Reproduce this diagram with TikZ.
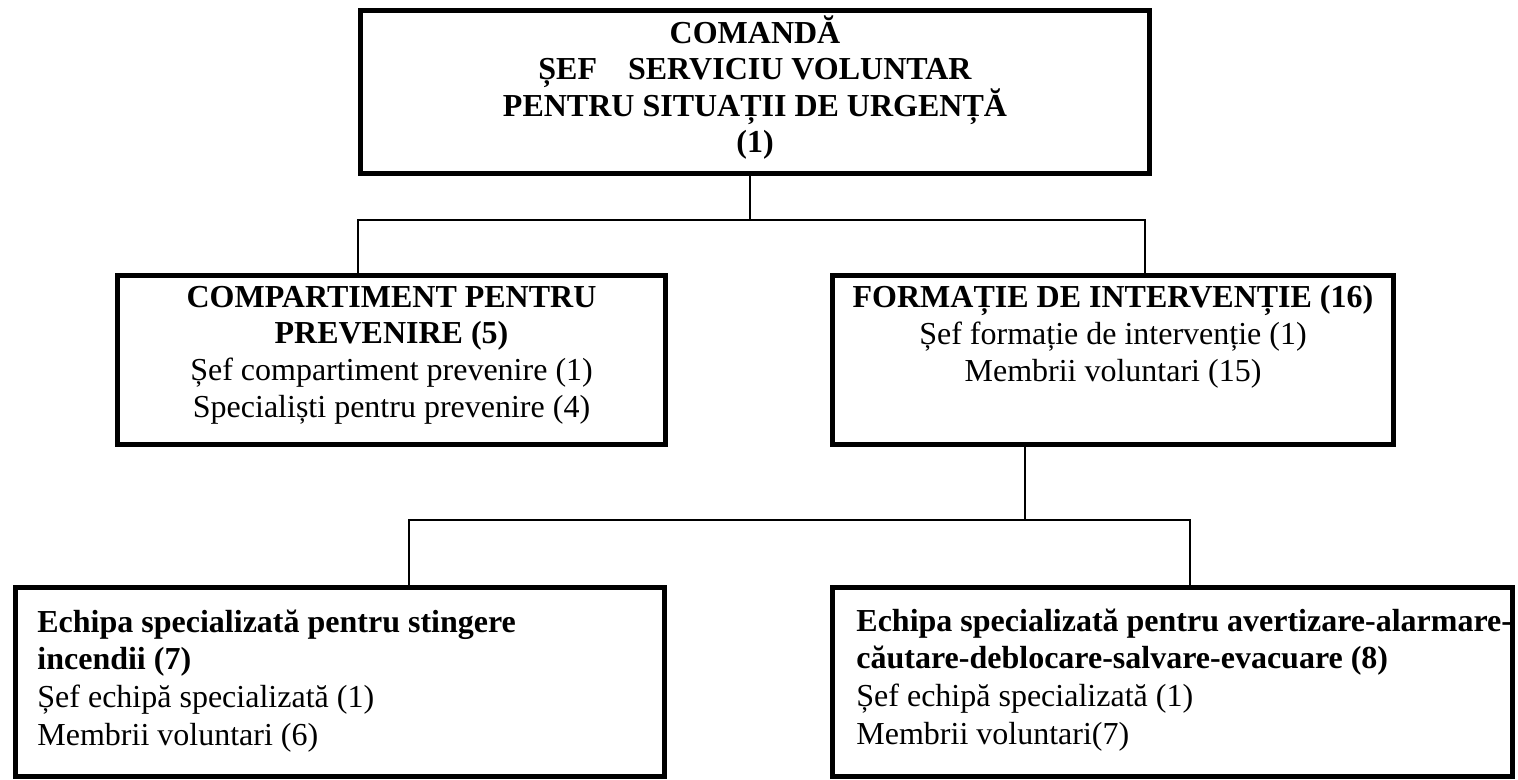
\documentclass[tikz,border=0pt]{standalone}
\usepackage{fontspec}
\setmainfont{Liberation Serif}
\begin{document}
\begin{tikzpicture}[x=0.5pt,y=-0.5pt,
  frame/.style={draw=black, line width=2.7pt, inner sep=0pt, rectangle},
  conn/.style={draw=black, line width=0.75pt},
  ctext/.style={font=\fontsize{16pt}{18.3pt}\selectfont, inner sep=0pt, align=center, anchor=base},
  ltext/.style={font=\fontsize{16pt}{18.8pt}\selectfont, inner sep=0pt, align=left, anchor=base west}
]
\useasboundingbox (0,0) rectangle (1518,780);

% frames
\node[frame, minimum width=394.3pt, minimum height=81.3pt] (top) at (755,92) {};
\node[frame, minimum width=273.8pt, minimum height=84.3pt] (lm) at (391.5,360) {};
\node[frame, minimum width=280.3pt, minimum height=84.3pt] (rm) at (1113,360) {};
\node[frame, minimum width=324.3pt, minimum height=94.3pt] (bl) at (340,682) {};
\node[frame, minimum width=339.8pt, minimum height=94.3pt] (br) at (1172.5,682) {};

% bus coordinates
\coordinate (b1) at (750,220);
\coordinate (bL) at (358,220);
\coordinate (bR) at (1145,220);
\coordinate (c1) at (1025,520);
\coordinate (cL) at (409,520);
\coordinate (cR) at (1190,520);

% connectors
\draw[conn] (top.south -| b1) -- (b1);
\draw[conn] (lm.north -| bL) -- (bL) -- (bR) -- (rm.north -| bR);
\draw[conn] (rm.south -| c1) -- (c1);
\draw[conn] (bl.north -| cL) -- (cL) -- (cR) -- (br.north -| cR);

% texts (anchored at the baseline of their last line)
\node[ctext] (ttop) at (755,153) {\bfseries COMANDĂ\\\bfseries ȘEF\hspace{15.5pt}SERVICIU VOLUNTAR\\\bfseries PENTRU SITUAȚII DE URGENȚĂ\\\bfseries (1)};
\node[ctext] (tlm) at (391.5,417) {{\bfseries COMPARTIMENT PENTRU}\\{\bfseries PREVENIRE (5)}\\Șef compartiment prevenire (1)\\Specialiști pentru prevenire (4)};
\node[ctext] (trm) at (1113,381) {{\bfseries FORMAȚIE DE INTERVENȚIE (16)}\\Șef formație de intervenție (1)\\Membrii voluntari (15)};
\node[ltext] (tbl) at (37,745) {{\bfseries Echipa specializată pentru stingere}\\{\bfseries incendii (7)}\\Șef echipă specializată (1)\\Membrii voluntari (6)};
\node[ltext] (tbr) at (856,744) {{\bfseries Echipa specializată pentru avertizare-alarmare-}\\{\bfseries căutare-deblocare-salvare-evacuare (8)}\\Șef echipă specializată (1)\\Membrii voluntari(7)};
\end{tikzpicture}
\end{document}
